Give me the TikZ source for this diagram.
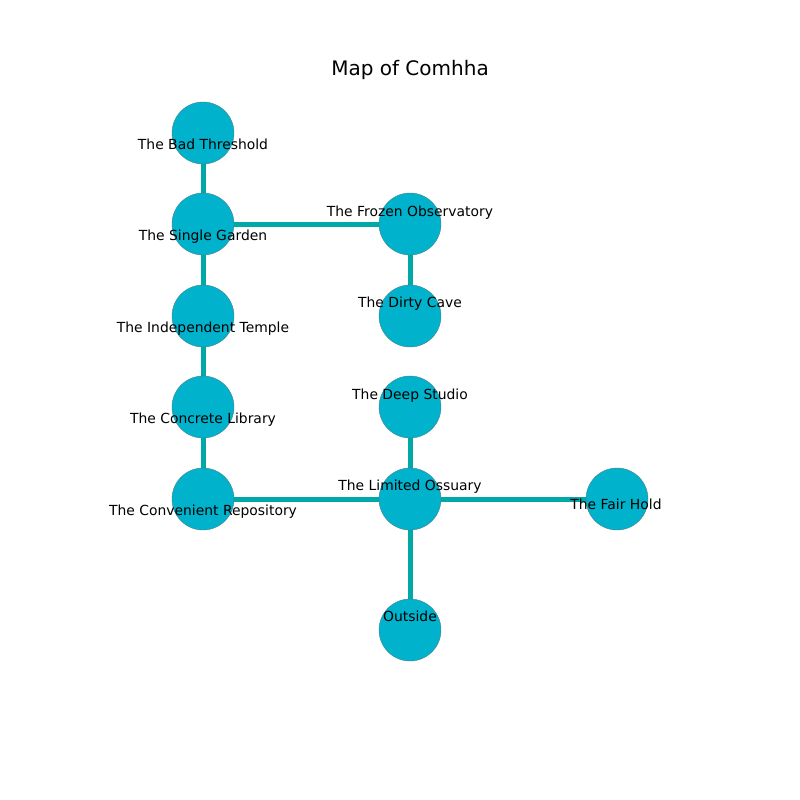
\documentclass[tikz,border=0pt]{standalone}
\usepackage{fontspec}
\setmainfont{DejaVu Sans}
\usetikzlibrary{backgrounds}
\definecolor{nodefill}{HTML}{00B2CC}
\definecolor{edgecol}{HTML}{00A8A8}
\definecolor{nodeedge}{HTML}{4A7F8A}
\begin{document}
\begin{tikzpicture}[x=1pt,y=-1pt,
  place/.style={circle,minimum size=62pt,inner sep=0pt,fill=nodefill,draw=nodeedge,line width=0.4pt},
  lbl/.style={font=\fontsize{13.9}{16}\selectfont,inner sep=0pt,anchor=base},
  link/.style={draw=edgecol,line width=5pt}]
\useasboundingbox (0,0) rectangle (800,800);
\node[font=\fontsize{20}{24}\selectfont,inner sep=0pt,anchor=base] (title) at (410,75) {Map of Comhha};
% nodes
\node[place] (bad) at (203,133) {};
\node[place] (single) at (203,224) {};
\node[place] (indep) at (203,316) {};
\node[place] (concrete) at (203,407) {};
\node[place] (conv) at (203,499) {};
\node[place] (frozen) at (410,224) {};
\node[place] (dirty) at (410,316) {};
\node[place] (deep) at (410,407) {};
\node[place] (limited) at (410,499) {};
\node[place] (fair) at (617,499) {};
\node[place] (outside) at (410,630) {};
% edges
\begin{scope}[on background layer]
\path[link] (bad) -- (single);
\path[link] (single) -- (indep);
\path[link] (indep) -- (concrete);
\path[link] (concrete) -- (conv);
\path[link] (single.center) -- (frozen.center);
\path[link] (frozen) -- (dirty);
\path[link] (conv.center) -- (limited.center);
\path[link] (deep) -- (limited);
\path[link] (limited.center) -- (fair.center);
\path[link] (limited) -- (outside);
\end{scope}
% labels
\node[lbl] (lbad) at (203,149.5) {The Bad Threshold};
\node[lbl] (lsingle) at (203,240.5) {The Single Garden};
\node[lbl] (lindep) at (203,332.5) {The Independent Temple};
\node[lbl] (lconcrete) at (203,423.5) {The Concrete Library};
\node[lbl] (lconv) at (203,515.5) {The Convenient Repository};
\node[lbl] (lfrozen) at (410,216) {The Frozen Observatory};
\node[lbl] (ldirty) at (410,307) {The Dirty Cave};
\node[lbl] (ldeep) at (410,399) {The Deep Studio};
\node[lbl] (llimited) at (410,490) {The Limited Ossuary};
\node[lbl] (lfair) at (616,509) {The Fair Hold};
\node[lbl] (loutside) at (410,621) {Outside};
\end{tikzpicture}
\end{document}
